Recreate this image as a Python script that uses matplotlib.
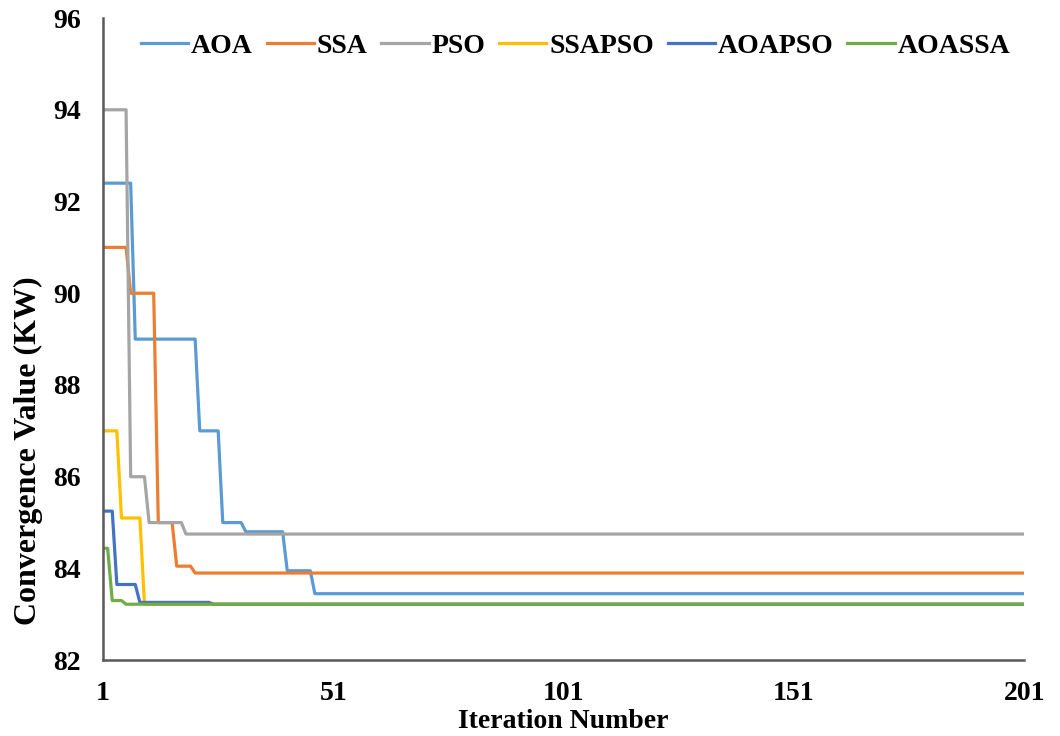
"""Convergence curves of the six optimisers."""

import matplotlib
matplotlib.use("Agg")
import matplotlib.pyplot as plt

# corner points (iteration, value)
AOA_IT = [1, 7, 8, 21, 22, 26, 27, 31, 32, 40, 41, 46, 47, 201]
AOA_VAL = [92.4, 92.4, 89.0, 89.0, 87.0, 87.0, 85.0, 85.0, 84.8, 84.8, 83.95, 83.95, 83.45, 83.45]

SSA_IT = [1, 6, 7, 12, 13, 16, 17, 20, 21, 201]
SSA_VAL = [91.0, 91.0, 90.0, 90.0, 85.0, 85.0, 84.05, 84.05, 83.9, 83.9]

PSO_IT = [1, 6, 7, 10, 11, 18, 19, 201]
PSO_VAL = [94.0, 94.0, 86.0, 86.0, 85.0, 85.0, 84.75, 84.75]

SSAPSO_IT = [1, 4, 5, 9, 10, 201]
SSAPSO_VAL = [87.0, 87.0, 85.1, 85.1, 83.22, 83.22]

AOAPSO_IT = [1, 3, 4, 8, 9, 24, 25, 201]
AOAPSO_VAL = [85.25, 85.25, 83.65, 83.65, 83.26, 83.26, 83.22, 83.22]

AOASSA_IT = [1, 2, 3, 5, 6, 201]
AOASSA_VAL = [84.44, 84.44, 83.3, 83.3, 83.22, 83.22]

SERIES = [
    ("AOA", AOA_IT, AOA_VAL, "#5B9BD5"),
    ("SSA", SSA_IT, SSA_VAL, "#ED7D31"),
    ("PSO", PSO_IT, PSO_VAL, "#A5A5A5"),
    ("SSAPSO", SSAPSO_IT, SSAPSO_VAL, "#FFC000"),
    ("AOAPSO", AOAPSO_IT, AOAPSO_VAL, "#4472C4"),
    ("AOASSA", AOASSA_IT, AOASSA_VAL, "#70AD47"),
]

X_TICKS = [1, 51, 101, 151, 201]
Y_TICKS = [82, 84, 86, 88, 90, 92, 94, 96]

plt.rcParams["font.family"] = ["Liberation Serif", "DejaVu Serif"]
plt.rcParams["font.weight"] = "bold"

fig = plt.figure(figsize=(10.6, 7.36), dpi=100)
ax = fig.add_axes([0.0972, 0.103, 0.869, 0.8725])

for name, it, val, color in SERIES:
    ax.plot(it, val, color=color, lw=2.3, label=name)

ax.set_xlim(1, 201)
ax.set_ylim(82, 96)
ax.set_xticks(X_TICKS)
ax.set_yticks(Y_TICKS)
ax.tick_params(length=0, labelsize=20)
ax.tick_params(axis="y", pad=16)
ax.tick_params(axis="x", pad=15)

for side in ("top", "right"):
    ax.spines[side].set_visible(False)
for side in ("left", "bottom"):
    ax.spines[side].set_color("#595959")
    ax.spines[side].set_linewidth(1.8)

ax.set_xlabel("Iteration Number", fontsize=20, fontweight="bold", labelpad=2)
ax.set_ylabel("Convergence Value (KW)", fontsize=23, fontweight="bold")
ax.yaxis.set_label_coords(-0.065, 0.326)

fig.legend(
    loc="center",
    bbox_to_anchor=(0.543, 0.937),
    ncol=6,
    frameon=False,
    fontsize=20,
    handlelength=1.7,
    handletextpad=0.1,
    columnspacing=0.5,
)

fig.savefig("out.png", dpi=100)
